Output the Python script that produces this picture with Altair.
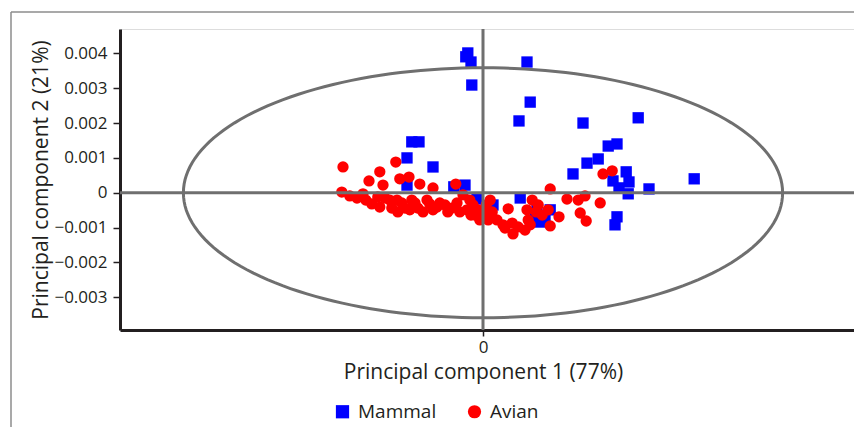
import altair as alt
import pandas as pd

# ---------------- data ----------------
groups = ["Mammal", "Avian"]
group_colors = ["#0000ff", "#ff0000"]
group_shapes = ["square", "circle"]

mammal_pc1 = [-0.00038, -0.00043, -0.00030, 0.00110, -0.00028, 0.00118, 0.00090, 0.00250,
              0.00388, -0.00178, -0.00160, 0.00313, 0.00335, -0.00190, -0.00125, 0.00260,
              0.00288, 0.00225, 0.00358, 0.00325, 0.00365, 0.00340, 0.00363, 0.00415,
              0.00528, -0.00190, -0.00073, -0.00045, -0.00015, 0.00025, 0.00093, 0.00135,
              0.00143, 0.00168, 0.00155, 0.00335, 0.00330, 0.00130]
mammal_pc2 = [0.00401, 0.00390, 0.00375, 0.00375, 0.00309, 0.00260, 0.00206, 0.00200,
              0.00215, 0.00146, 0.00146, 0.00134, 0.00140, 0.00100, 0.00074, 0.00085,
              0.00097, 0.00054, 0.00060, 0.00034, 0.00031, 0.00014, -0.00003, 0.00011,
              0.00040, 0.00022, 0.00017, 0.00022, -0.00018, -0.00035, -0.00015, -0.00049,
              -0.00084, -0.00049, -0.00072, -0.00069, -0.00092, -0.00072]

avian_pc1 = [-0.00350, -0.00353, -0.00285, -0.00258, -0.00218, -0.00250, -0.00208, -0.00185,
             -0.00158, -0.00125, -0.00068, -0.00315, -0.00300, -0.00278, -0.00245, -0.00228,
             -0.00215, -0.00195, -0.00178, -0.00163, -0.00140, -0.00125, -0.00108, -0.00088,
             -0.00065, -0.00050, -0.00040, -0.00020, -0.00008, -0.00025, -0.00333, -0.00293,
             -0.00263, -0.00258, -0.00233, -0.00213, -0.00203, -0.00183, -0.00170, -0.00150,
             -0.00133, -0.00115, -0.00095, -0.00078, -0.00058, -0.00033, -0.00013, 0.00003,
             0.00008, 0.00018, 0.00023, 0.00013, 0.00035, 0.00050, 0.00063, 0.00055,
             0.00073, 0.00075, 0.00105, 0.00118, 0.00110, 0.00123, 0.00138, 0.00148,
             0.00163, 0.00168, 0.00168, 0.00190, 0.00210, 0.00238, 0.00255, 0.00243,
             0.00258, 0.00293, 0.00300, 0.00323, -0.00030, 0.00133, 0.00113, 0.00088]
avian_pc2 = [0.00074, 0.00002, 0.00034, 0.00060, 0.00088, 0.00022, 0.00040, 0.00045,
             0.00025, 0.00014, 0.00025, -0.00015, -0.00003, -0.00032, -0.00015, -0.00044,
             -0.00021, -0.00044, -0.00021, -0.00044, -0.00021, -0.00049, -0.00029, -0.00055,
             -0.00029, -0.00006, -0.00049, -0.00064, -0.00078, -0.00035, -0.00009, -0.00021,
             -0.00012, -0.00041, -0.00021, -0.00055, -0.00029, -0.00049, -0.00029, -0.00055,
             -0.00032, -0.00041, -0.00035, -0.00044, -0.00055, -0.00021, -0.00049, -0.00058,
             -0.00035, -0.00021, -0.00055, -0.00078, -0.00078, -0.00092, -0.00046, -0.00101,
             -0.00087, -0.00118, -0.00107, -0.00092, -0.00049, -0.00021, -0.00035, -0.00064,
             -0.00049, -0.00095, 0.00011, -0.00069, -0.00018, -0.00021, -0.00009, -0.00058,
             -0.00081, -0.00029, 0.00054, 0.00063, -0.00064, -0.00055, -0.00078, -0.00098]

y_ticks = [-0.003, -0.002, -0.001, 0, 0.001, 0.002, 0.003, 0.004]
x_ticks = [0]
x_domain = [-0.009075, 0.009275]
y_domain = [-0.003936, 0.004697]
ellipse_rx = 0.00749
ellipse_ry = 0.003586

x_title = "Principal component 1 (77%)"
y_title = "Principal component 2 (21%)"

# ---------------- build ----------------
df = pd.DataFrame({
    "pc1": mammal_pc1 + avian_pc1,
    "pc2": mammal_pc2 + avian_pc2,
    "group": ["Mammal"] * len(mammal_pc1) + ["Avian"] * len(avian_pc1),
})

W, H = 734, 301
FONT = "Open Sans"
INK = "#231f20"
GREY = "#6f6f6f"

xs = alt.Scale(domain=x_domain, nice=False, zero=False)
ys = alt.Scale(domain=y_domain, nice=False, zero=False)

x_axis = alt.Axis(values=x_ticks, format=".0f", title=x_title, grid=False,
                  domainColor=INK, domainWidth=3, tickColor=INK, tickWidth=1.5, tickSize=6,
                  labelFont=FONT, labelFontSize=17, labelColor=INK, labelPadding=3,
                  titleFont=FONT, titleFontSize=21, titleFontWeight="normal", titleColor=INK,
                  titleX=363, titleY=42, titleBaseline="middle", titleAlign="center")
y_axis = alt.Axis(values=y_ticks, format=".3~f", title=y_title, grid=False,
                  domainColor=INK, domainWidth=3, tickColor=INK, tickWidth=1.5, tickSize=7,
                  labelFont=FONT, labelFontSize=17, labelColor=INK, labelPadding=6,
                  titleFont=FONT, titleFontSize=21, titleFontWeight="normal", titleColor=INK,
                  titleAngle=270, titleX=-79, titleY=H / 2, titleBaseline="middle",
                  titleAlign="center")

legend = alt.Legend(title=None, orient="none", direction="horizontal",
                    legendX=213, legendY=373, labelFont=FONT, labelFontSize=19,
                    labelColor=INK, symbolSize=175, symbolStrokeWidth=0,
                    labelOffset=6, columnPadding=28)

points = alt.Chart(df).mark_point(filled=True, opacity=1, size=128, strokeWidth=0).encode(
    x=alt.X("pc1:Q", scale=xs, axis=x_axis),
    y=alt.Y("pc2:Q", scale=ys, axis=y_axis),
    color=alt.Color("group:N", scale=alt.Scale(domain=groups, range=group_colors), legend=legend),
    shape=alt.Shape("group:N", scale=alt.Scale(domain=groups, range=group_shapes), legend=legend),
)

ellipse = alt.Chart(alt.sequence(0, 361, 2, as_="t")).transform_calculate(
    ex=f"{ellipse_rx} * cos(datum.t * PI / 180)",
    ey=f"{ellipse_ry} * sin(datum.t * PI / 180)",
).mark_line(color=GREY, strokeWidth=3).encode(
    x=alt.X("ex:Q", scale=xs),
    y=alt.Y("ey:Q", scale=ys),
    order=alt.Order("t:Q"),
)

vline = alt.Chart(alt.Data(values=[{}])).mark_rule(color=GREY, strokeWidth=3).encode(
    x=alt.datum(0, scale=xs))
hline = alt.Chart(alt.Data(values=[{}])).mark_rule(color=GREY, strokeWidth=3).encode(
    y=alt.datum(0, scale=ys))

frame_left = alt.Chart(alt.Data(values=[{}])).mark_rule(color="#8c8c8c", strokeWidth=1.5).encode(
    x=alt.value(-109), y=alt.value(-17), y2=alt.value(420))
frame_top = alt.Chart(alt.Data(values=[{}])).mark_rule(color="#8c8c8c", strokeWidth=1.5).encode(
    x=alt.value(-109), x2=alt.value(760), y=alt.value(-17))

chart = alt.layer(points, ellipse, vline, hline, frame_left, frame_top).properties(
    width=W, height=H,
    autosize=alt.AutoSizeParams(type="none"),
    padding={"left": 112, "top": 21, "right": 0, "bottom": 97},
).configure_view(stroke=None).configure(background="white")

chart.save("out.html", embed_options={"renderer": "svg", "actions": False})
